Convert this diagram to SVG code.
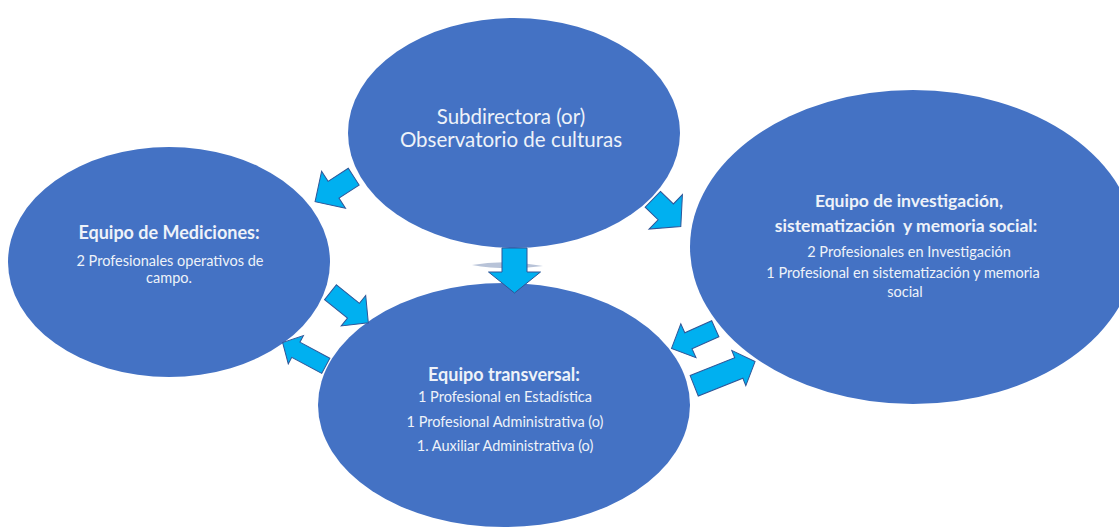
<svg xmlns="http://www.w3.org/2000/svg" width="1119" height="529" viewBox="0 0 1119 529">
<style>
.node{fill:#4472C4;}
.arr{fill:#00B0F0;stroke:#2F5597;stroke-width:1;stroke-linejoin:miter;}
text{font-family:Lato,"Liberation Sans",sans-serif;fill:#EEF2F9;text-anchor:middle;}
.t0{font-size:20.5px;}
.tt{font-size:18px;font-weight:bold;}
.tr{font-size:17.5px;font-weight:bold;}
.tb{font-size:14.5px;}
</style>
<rect width="1119" height="529" fill="#ffffff"/>
<g id="node-top">
<ellipse class="node" cx="514" cy="133" rx="166" ry="115"/>
<text class="t0" x="511" y="124">Subdirectora (or)</text>
<text class="t0" x="511" y="147">Observatorio de culturas</text>
</g>
<g id="node-left">
<ellipse class="node" cx="169" cy="262" rx="161" ry="115"/>
<text class="tt" x="169" y="239">Equipo de Mediciones:</text>
<text class="tb" x="170" y="266">2 Profesionales operativos de</text>
<text class="tb" x="169" y="283">campo.</text>
</g>
<g id="node-right">
<ellipse class="node" cx="913" cy="247" rx="223" ry="157"/>
<text class="tr" x="909" y="207">Equipo de investigación,</text>
<text class="tr" x="906" y="232" xml:space="preserve">sistematización  y memoria social:</text>
<text class="tb" x="909" y="257">2 Profesionales en Investigación</text>
<text class="tb" x="903" y="278">1 Profesional en sistematización y memoria</text>
<text class="tb" x="905" y="297">social</text>
</g>
<g id="node-bottom">
<ellipse class="node" cx="504" cy="405" rx="186" ry="122"/>
<text class="tt" x="504" y="381">Equipo transversal:</text>
<text class="tb" x="505" y="402">1 Profesional en Estadística</text>
<text class="tb" x="505" y="427">1 Profesional Administrativa (o)</text>
<text class="tb" x="505" y="451">1. Auxiliar Administrativa (o)</text>
</g>
<g id="connectors">
<path d="M472,265 Q505,259 543,266 Q505,271 472,265 Z" fill="#9aa9c8" opacity="0.7"/>
<!-- top -> left -->
<path class="arr" transform="translate(353.7,176.7) rotate(147.1)" d="M0,-10 L24,-10 L24,-22 L46,0 L24,22 L24,10 L0,10 Z"/>
<!-- top -> right -->
<path class="arr" transform="translate(652.8,199.3) rotate(44.1)" d="M0,-11 L18,-11 L18,-24 L39,0 L18,24 L18,11 L0,11 Z"/>
<!-- top -> bottom -->
<path class="arr" transform="translate(514.5,248) rotate(90)" d="M0,-12.5 L24,-12.5 L24,-26 L45,0 L24,26 L24,12.5 L0,12.5 Z"/>
<!-- left -> bottom -->
<path class="arr" transform="translate(330.5,292.2) rotate(38.9)" d="M0,-9.5 L29.5,-9.5 L29.5,-19.5 L48.6,0 L29.5,19.5 L29.5,9.5 L0,9.5 Z"/>
<!-- bottom -> left -->
<path class="arr" transform="translate(325.8,365.8) rotate(208.2)" d="M0,-8.6 L34,-8.6 L34,-16 L49,0 L34,16 L34,8.6 L0,8.6 Z"/>
<!-- right -> bottom -->
<path class="arr" transform="translate(715.3,328.7) rotate(155.8)" d="M0,-8.8 L29.5,-8.8 L29.5,-18.5 L48,0 L29.5,18.5 L29.5,8.8 L0,8.8 Z"/>
<!-- bottom -> right -->
<path class="arr" transform="translate(694.2,385.8) rotate(-21.7)" d="M0,-11 L48,-11 L48,-19 L65.5,0 L48,19 L48,11 L0,11 Z"/>
</g>
</svg>
